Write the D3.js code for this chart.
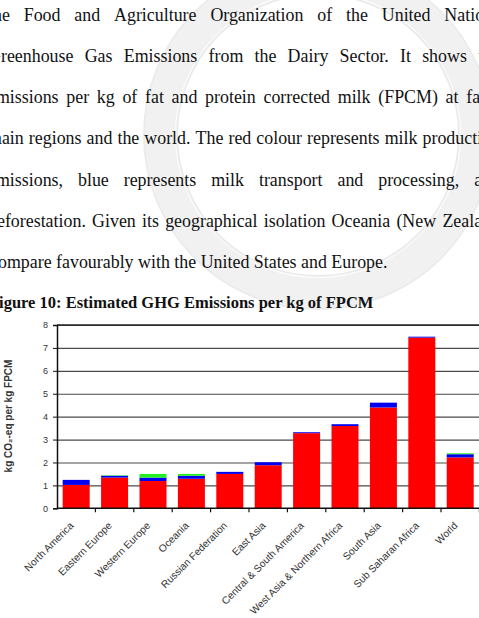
<!DOCTYPE html>
<html>
<head>
<meta charset="utf-8">
<script src="https://cdn.jsdelivr.net/npm/d3@7"></script>
<style>
  body { margin: 0; background: #fff; overflow: hidden; }
  svg { display: block; }
</style>
</head>
<body>
<svg id="page"></svg>
<script>
// page text
const bodyLines = [
  "the Food and Agriculture Organization of the United Nations",
  "Greenhouse Gas Emissions from the Dairy Sector. It shows the",
  "emissions per kg of fat and protein corrected milk (FPCM) at farm",
  "main regions and the world. The red colour represents milk production",
  "emissions, blue represents milk transport and processing, and",
  "deforestation. Given its geographical isolation Oceania (New Zealand",
  "compare favourably with the United States and Europe."
];
const captionText = "Figure 10: Estimated GHG Emissions per kg of FPCM";

// chart data (kg CO2-eq per kg FPCM)
const categories = ["North America", "Eastern Europe", "Western Europe", "Oceania",
  "Russian Federation", "East Asia", "Central & South America",
  "West Asia & Northern Africa", "South Asia", "Sub Saharan Africa", "World"];
const production    = [1.02, 1.34, 1.19, 1.29, 1.50, 1.88, 3.28, 3.59, 4.40, 7.45, 2.22];
const transport     = [0.22, 0.08, 0.15, 0.13, 0.09, 0.13, 0.04, 0.08, 0.21, 0.04, 0.14];
const deforestation = [0.00, 0.02, 0.16, 0.08, 0.00, 0.00, 0.00, 0.00, 0.00, 0.00, 0.04];
const yTicks = [0, 1, 2, 3, 4, 5, 6, 7, 8];
const yTitle = "kg CO\u2082-eq per kg FPCM";

const W = 479, H = 618;
const svg = d3.select("#page").attr("width", W).attr("height", H);

// faint university seal behind the text
const seal = svg.append("g").attr("opacity", 0.45);
seal.append("circle").attr("cx", 318).attr("cy", 135).attr("r", 158)
  .attr("fill", "none").attr("stroke", "#e2e2e2").attr("stroke-width", 30);
seal.append("circle").attr("cx", 318).attr("cy", 135).attr("r", 174)
  .attr("fill", "none").attr("stroke", "#d4d4d4").attr("stroke-width", 2);
seal.append("circle").attr("cx", 318).attr("cy", 135).attr("r", 141)
  .attr("fill", "none").attr("stroke", "#d4d4d4").attr("stroke-width", 2);

// --- paragraph, justified word by word
const textLeft = -12, textRight = 500;
const baselines = [20.7, 61.7, 103, 144, 185.7, 226.7, 268.3];
const serif = "'Liberation Serif', 'Times New Roman', serif";
const bodySize = 17.9;

const measure = svg.append("text").attr("font-family", serif).attr("font-size", bodySize);
function wordWidth(w) {
  measure.text(w);
  return measure.node().getComputedTextLength();
}

bodyLines.forEach((line, i) => {
  const words = line.split(" ");
  const widths = words.map(w => wordWidth(w));
  const last = i === bodyLines.length - 1;
  const gap = last ? wordWidth("a b") - wordWidth("ab")
    : (textRight - textLeft - d3.sum(widths)) / (words.length - 1);
  let xPos = last ? -10 : textLeft;
  const t = svg.append("text").attr("font-family", serif).attr("font-size", bodySize)
    .attr("fill", "#111").attr("y", baselines[i]);
  words.forEach((w, k) => {
    t.append("tspan").attr("x", xPos).text(w);
    xPos += widths[k] + gap;
  });
});
measure.remove();

svg.append("text").attr("x", -11).attr("y", 308.3)
  .attr("font-family", serif).attr("font-size", 16.5).attr("font-weight", "bold")
  .attr("fill", "#111").text(captionText);

// --- chart
const plot = { left: 57, right: 479.4, top: 325, bottom: 508.3 };
const sans = "'Liberation Sans', Arial, sans-serif";

const x = d3.scaleBand().domain(categories)
  .range([plot.left, plot.right]).paddingInner(0.297).paddingOuter(0.148);
const y = d3.scaleLinear().domain([0, 8]).range([plot.bottom, plot.top]);

const chart = svg.append("g");

// gridlines
chart.append("g")
  .attr("transform", `translate(${plot.left},0)`)
  .call(d3.axisLeft(y).tickValues(yTicks.slice(1)).tickSize(-(plot.right - plot.left)).tickFormat(""))
  .call(g => g.select(".domain").remove())
  .call(g => g.selectAll("line").attr("stroke", "#4a4a4a").attr("stroke-width", 1.2));

// stacked bars
const rows = categories.map((c, i) => ({
  cat: c, production: production[i], transport: transport[i], deforestation: deforestation[i]
}));
const keys = ["production", "transport", "deforestation"];
const colors = { production: "#ff0000", transport: "#0000f0", deforestation: "#22ee22" };
const stacked = d3.stack().keys(keys)(rows);

chart.selectAll(".layer")
  .data(stacked)
  .join("g")
  .attr("class", "layer")
  .attr("fill", d => colors[d.key])
  .selectAll("rect")
  .data(d => d)
  .join("rect")
  .attr("x", d => x(d.data.cat))
  .attr("width", x.bandwidth())
  .attr("y", d => y(d[1]))
  .attr("height", d => y(d[0]) - y(d[1]));

// top border
chart.append("line")
  .attr("x1", plot.left).attr("x2", W).attr("y1", y(8)).attr("y2", y(8))
  .attr("stroke", "#222").attr("stroke-width", 1.3);

// y axis
chart.append("g")
  .attr("transform", `translate(${plot.left},0)`)
  .call(d3.axisLeft(y).tickValues(yTicks).tickSize(4).tickPadding(5).tickFormat(d3.format("d")))
  .call(g => g.select(".domain").attr("stroke", "#111").attr("stroke-width", 1.5))
  .call(g => g.selectAll(".tick line").attr("stroke", "#111"))
  .call(g => g.selectAll("text").attr("font-family", sans).attr("font-size", 9).attr("fill", "#333"));

// x axis: baseline, boundary ticks and rotated labels
chart.append("line")
  .attr("x1", plot.left).attr("x2", W).attr("y1", plot.bottom).attr("y2", plot.bottom)
  .attr("stroke", "#111").attr("stroke-width", 1.5);

chart.selectAll(".bound")
  .data(categories)
  .join("line")
  .attr("class", "bound")
  .attr("x1", d => x(d) + x.bandwidth() + (x.step() - x.bandwidth()) / 2)
  .attr("x2", d => x(d) + x.bandwidth() + (x.step() - x.bandwidth()) / 2)
  .attr("y1", plot.bottom).attr("y2", plot.bottom + 4)
  .attr("stroke", "#111").attr("stroke-width", 1.2);

chart.selectAll(".xlabel")
  .data(categories)
  .join("text")
  .attr("class", "xlabel")
  .attr("transform", d => `translate(${x(d) + x.bandwidth() / 2 - 2},${plot.bottom + 18}) rotate(-45)`)
  .attr("text-anchor", "end")
  .attr("font-family", sans).attr("font-size", 10.2).attr("fill", "#333")
  .text(d => d);

// y title
svg.append("text")
  .attr("transform", `translate(12,416) rotate(-90)`)
  .attr("text-anchor", "middle")
  .attr("font-family", sans).attr("font-size", 10).attr("font-weight", "bold").attr("fill", "#333")
  .text(yTitle);
</script>
</body>
</html>
